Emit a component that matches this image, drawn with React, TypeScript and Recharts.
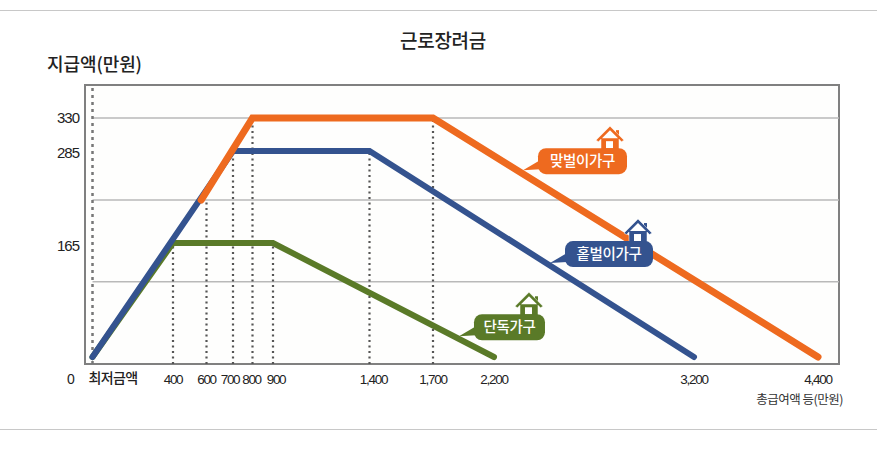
import React from 'react'
import { LineChart, Line, XAxis, YAxis, ReferenceLine, ReferenceArea, ReferenceDot } from 'recharts'

const W = 877
const H = 457

// values
const singleIncome = [0, 400, 900, 2200]
const singleAmount = [0, 165, 165, 0]
const oneEarnerIncome = [0, 700, 1400, 3200]
const oneEarnerAmount = [0, 285, 285, 0]
const dualIncome = [568, 800, 1700, 4400]
const dualAmount = [221, 330, 330, 0]

const xTicks = [0, 400, 600, 700, 800, 900, 1400, 1700, 2200, 3200, 4400]
const yTicks = [165, 285, 330]
const gridValues = [109, 221, 330]
const dottedIncome = [400, 600, 700, 800, 900, 1400, 1700]
const dottedTop = [165, 221, 285, 330, 165, 285, 330]

const calloutLabels = ['맞벌이가구', '홑벌이가구', '단독가구']
const calloutColors = ['#ee6a1f', '#34538f', '#5a7a28']
const calloutIncome = [2345, 2480, 1913]
const calloutAmount = [260, 136, 30]
const calloutWidths = [89, 88, 71]
const calloutHouse = [72, 73, 55]

const toRows = (xs: number[], ys: number[]) => xs.map((income, i) => ({ income, amount: ys[i] }))

// the axes of the original are not to scale, so both are piecewise
const xDomain = [-40, 5000]
const yDomain = [-10, 375]

function piecewise(values: number[], pixels: number[]) {
  const scale: any = (v: number) => {
    let i = 0
    while (i < values.length - 2 && v > values[i + 1]) i++
    const t = (v - values[i]) / (values[i + 1] - values[i])
    return pixels[i] + t * (pixels[i + 1] - pixels[i])
  }
  // recharts calls these as chained setters, the knots stay fixed
  scale.domain = (d?: number[]) => (d ? scale : [values[0], values[values.length - 1]])
  scale.range = (r?: number[]) => (r ? scale : [pixels[0], pixels[pixels.length - 1]])
  scale.copy = () => scale
  scale.ticks = () => values
  return scale
}

const xScale = piecewise(
  [-40, 0, 400, 600, 700, 800, 900, 1400, 1700, 2200, 3200, 4400, 5000],
  [85, 92.5, 173, 206.5, 233, 252.5, 273, 369.5, 433, 494, 694, 818, 839],
)
const yScale = piecewise([-10, 0, 165, 285, 330, 375], [364, 357, 243, 151, 118, 85])

const xTickShift: Record<number, number> = { 700: -3, 800: -1, 900: 3, 1400: 4 }
const yTickShift: Record<number, number> = { 165: 2.5, 285: 2 }

const labelFont = '"Liberation Sans", sans-serif'
const koreanFont = '"Noto Sans CJK KR", sans-serif'

function XTick({ x, y, payload }: any) {
  if (payload.value === 0) {
    return (
      <g>
        <text x={71} y={y + 12} textAnchor='middle' fontFamily={labelFont} fontSize={14} fill='#222'>0</text>
        <text x={113} y={y + 11} textAnchor='middle' fontFamily={koreanFont} fontSize={14} fontWeight={500} letterSpacing={-0.6} fill='#222'>최저금액</text>
      </g>
    )
  }
  return (
    <text x={x + (xTickShift[payload.value] || 0)} y={y + 12} textAnchor='middle' fontFamily={labelFont} fontSize={13.5} letterSpacing={-1.3} fill='#222'>
      {payload.value.toLocaleString('en-US')}
    </text>
  )
}

function YTick({ x, y, payload }: any) {
  return (
    <text x={x} y={y + 5 + (yTickShift[payload.value] || 0)} textAnchor='end' fontFamily={labelFont} fontSize={15} letterSpacing={-1} fill='#222'>
      {payload.value}
    </text>
  )
}

// badge with a tail pointing at (cx, cy) and a small house on top
function Callout({ cx, cy, w, houseDx, color, label }: any) {
  const x = cx + 15
  const y = cy - 22
  const hx = x + houseDx
  const top = y - 22
  return (
    <g>
      <path d={`M${cx} ${cy} L${x + 2} ${y + 12} L${x + 2} ${y + 21} Z`} fill={color} />
      <rect x={hx + 6} y={top + 4} width={3} height={8} fill={color} />
      <path
        d={`M${hx} ${top} L${hx + 14} ${top + 14} L${hx + 11.5} ${top + 15.5} L${hx + 9} ${top + 13} L${hx + 9} ${top + 24} L${hx - 9} ${top + 24} L${hx - 9} ${top + 13} L${hx - 11.5} ${top + 15.5} L${hx - 14} ${top + 14} Z`}
        fill={color}
        stroke='#fff'
        strokeWidth={0.5}
      />
      <path d={`M${hx} ${top + 4} L${hx + 8} ${top + 12} L${hx - 8} ${top + 12} Z`} fill='#fff' />
      <rect x={hx - 4} y={top + 15} width={7} height={7} fill='#fff' />
      <rect x={x} y={y} width={w} height={26} rx={8} fill={color} />
      <text x={x + w / 2} y={y + 18} textAnchor='middle' fontFamily={koreanFont} fontSize={14.5} fontWeight={500} letterSpacing={-0.3} fill='#fff'>
        {label}
      </text>
    </g>
  )
}

export default function App() {
  return (
    <div style={{ position: 'absolute', left: 0, top: 0, width: W, height: H, background: '#fff' }}>
      <LineChart width={W} height={H} margin={{ top: 85, right: 38, bottom: 63, left: 25 }}>
        <line x1={0} y1={10.5} x2={W} y2={10.5} stroke='#c8c8c8' />
        <line x1={0} y1={429.5} x2={W} y2={429.5} stroke='#c8c8c8' />
        <text x={443} y={48} textAnchor='middle' fontFamily={koreanFont} fontSize={19} fontWeight={500} letterSpacing={-0.3} fill='#222'>근로장려금</text>
        <text x={47} y={71} fontFamily={koreanFont} fontSize={18} fontWeight={500} letterSpacing={-0.1} fill='#222'>지급액(만원)</text>
        <text x={843} y={404} textAnchor='end' fontFamily={koreanFont} fontSize={12.5} letterSpacing={-0.5} fill='#333'>총급여액 등(만원)</text>

        <XAxis
          type='number'
          dataKey='income'
          scale={xScale}
          domain={xDomain}
          ticks={xTicks}
          interval={0}
          height={30}
          axisLine={false}
          tickLine={false}
          tick={<XTick />}
          allowDataOverflow
        />
        <YAxis
          type='number'
          dataKey='amount'
          scale={yScale}
          domain={yDomain}
          ticks={yTicks}
          interval={0}
          width={60}
          axisLine={false}
          tickLine={false}
          tickMargin={0}
          tick={<YTick />}
          allowDataOverflow
        />

        <ReferenceArea x1={xDomain[0]} x2={xDomain[1]} y1={yDomain[0]} y2={yDomain[1]} fill='#fefefd' fillOpacity={1} stroke='#808080' strokeWidth={2} />
        {gridValues.map((v) => (
          <ReferenceLine key={v} segment={[{ x: 0, y: v }, { x: xDomain[1], y: v }]} stroke='#b9b9b9' strokeWidth={1.5} />
        ))}
        <ReferenceLine x={0} stroke='#777' strokeWidth={2.5} strokeDasharray='3 4' />
        {dottedIncome.map((v, i) => (
          <ReferenceLine key={v} segment={[{ x: v, y: yDomain[0] }, { x: v, y: dottedTop[i] }]} stroke='#555' strokeWidth={2.2} strokeDasharray='2 3.5' />
        ))}

        <Line data={toRows(singleIncome, singleAmount)} dataKey='amount' stroke='#5a7a28' strokeWidth={6} strokeLinecap='round' dot={false} activeDot={false} isAnimationActive={false} />
        <Line data={toRows(oneEarnerIncome, oneEarnerAmount)} dataKey='amount' stroke='#34538f' strokeWidth={6} strokeLinecap='round' dot={false} activeDot={false} isAnimationActive={false} />
        <Line data={toRows(dualIncome, dualAmount)} dataKey='amount' stroke='#ee6a1f' strokeWidth={7} strokeLinecap='round' dot={false} activeDot={false} isAnimationActive={false} />

        {calloutLabels.map((label, i) => (
          <ReferenceDot
            key={label}
            x={calloutIncome[i]}
            y={calloutAmount[i]}
            zIndex={2000}
            shape={(p: any) => (
              <Callout cx={p.cx} cy={p.cy} w={calloutWidths[i]} houseDx={calloutHouse[i]} color={calloutColors[i]} label={label} />
            )}
          />
        ))}
      </LineChart>
    </div>
  )
}
